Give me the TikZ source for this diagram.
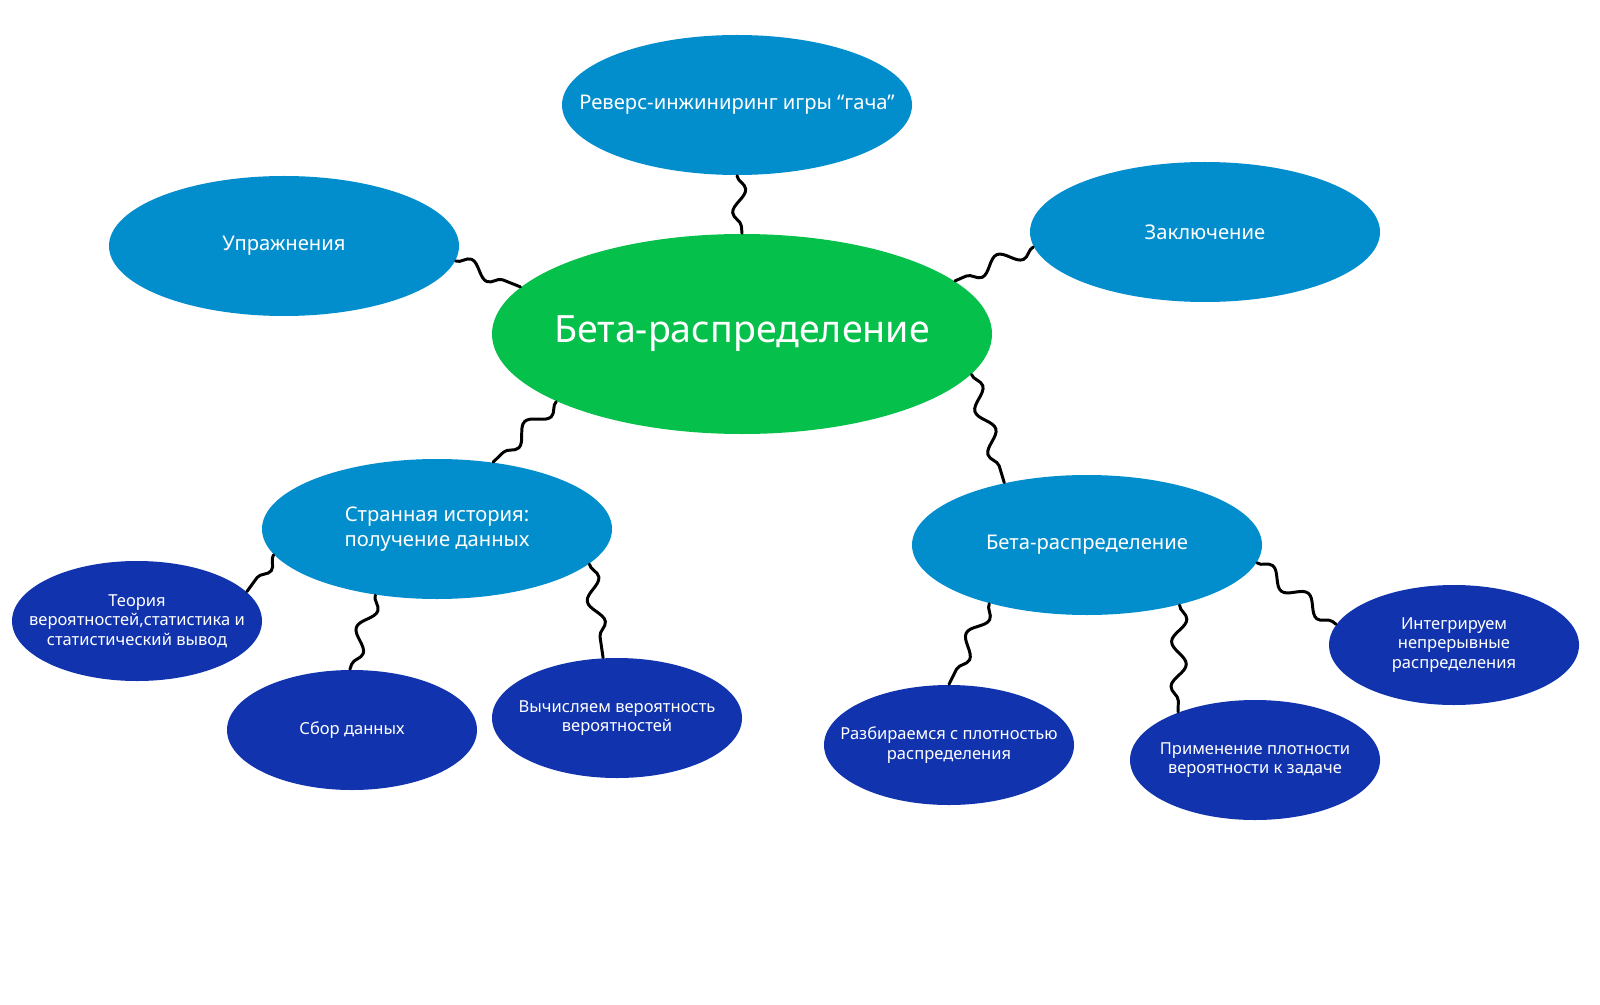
\documentclass[tikz,border=0pt]{standalone}
\usepackage{fontspec}
\setmainfont{Noto Sans}
\usetikzlibrary{shapes.geometric, decorations.pathmorphing}
\definecolor{topicblue}{HTML}{028ECD}
\definecolor{rootgreen}{HTML}{05C04B}
\definecolor{leafblue}{HTML}{1134AE}
\begin{document}
\begin{tikzpicture}[line cap=round, line join=round,
    root/.style={ellipse, fill=rootgreen, text=white, inner xsep=-2cm, inner ysep=-0.5cm,
      minimum width=5cm, minimum height=2cm, font=\fontsize{10.7}{13}\selectfont},
    topic/.style={ellipse, fill=topicblue, text=white, inner xsep=-1.5cm, inner ysep=-0.4cm,
      align=center, minimum width=3.5cm, minimum height=1.4cm, font=\fontsize{5.75}{7}\selectfont},
    leaf/.style={ellipse, fill=leafblue, text=white, inner xsep=-1.2cm, inner ysep=-0.4cm,
      align=center, minimum width=2.5cm, minimum height=1.2cm, font=\fontsize{4.7}{5.5}\selectfont},
    wave/.style={line width=0.85pt, decorate,
      decoration={snake, amplitude=0.75mm, segment length=4.5mm}}]
  \fill[white] (0,0) rectangle (16,10.04);
  \useasboundingbox (0,0) rectangle (16,10.04);
  \node[root] (beta0) at (7.42,6.70) {Бета-распределение};
  \node[topic] (rev) at (7.37,8.99) {Реверс-инжиниринг игры “гача”};
  \node[topic] (upr) at (2.84,7.58) {Упражнения};
  \node[topic] (zakl) at (12.05,7.72) {Заключение};
  \node[topic] (hist) at (4.37,4.75) {Странная история:\\получение данных};
  \node[topic] (beta1) at (10.87,4.59) {Бета-распределение};
  \node[leaf] (teor) at (1.37,3.83) {Теория\\вероятностей,статистика и\\статистический вывод};
  \node[leaf] (sbor) at (3.52,2.74) {Сбор данных};
  \node[leaf] (vych) at (6.17,2.86) {Вычисляем вероятность\\вероятностей};
  \node[leaf] (razb) at (9.49,2.59) {Разбираемся с плотностью\\распределения};
  \node[leaf] (prim) at (12.55,2.44) {Применение плотности\\вероятности к задаче};
  \node[leaf] (integ) at (14.54,3.59) {Интегрируем\\непрерывные\\распределения};
  \draw[wave] (rev.-90) -- (beta0.90);
  \draw[wave] (upr.-5) -- (beta0.168);
  \draw[wave] (zakl.-175) -- (beta0.14);
  \draw[wave] (beta0.200) -- (hist.50);
  \draw[wave] (beta0.-10) -- (beta1.143);
  \draw[wave] (hist.189) -- (teor.15);
  \draw[wave] (hist.-133) -- (sbor.92);
  \draw[wave] (hist.-13) -- (vych.103);
  \draw[wave] (beta1.-149) -- (razb.90);
  \draw[wave] (beta1.-33) -- (prim.148);
  \draw[wave] (beta1.-6) -- (integ.170);
\end{tikzpicture}
\end{document}
